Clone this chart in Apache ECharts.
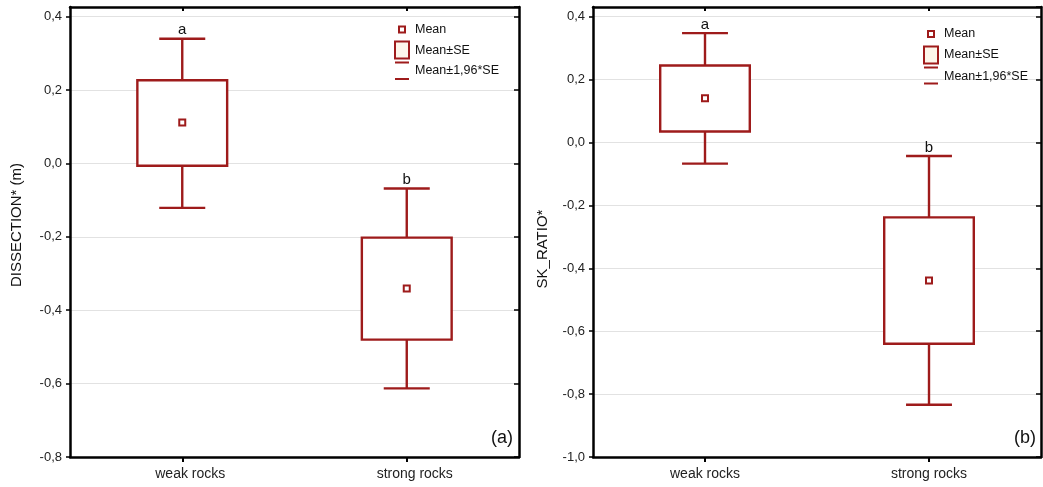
<!DOCTYPE html>
<html>
<head>
<meta charset="utf-8">
<script src="https://cdn.jsdelivr.net/npm/echarts@6/dist/echarts.min.js"></script>
<style>
html,body{margin:0;padding:0;background:#fff;}
#chart{width:1043px;height:487px;}
</style>
</head>
<body>
<div id="chart"></div>
<script>
// ---- data ----
var categories = ['weak rocks', 'strong rocks'];
var groupLetters = ['a', 'b'];

// Panel (a): DISSECTION* (m)
var dissMean   = [0.112, -0.341];
var dissSeLow  = [-0.006, -0.480];
var dissSeHigh = [0.227, -0.202];
var dissCiLow  = [-0.121, -0.613];
var dissCiHigh = [0.340, -0.068];

// Panel (b): SK_RATIO*
var skMean   = [0.141, -0.439];
var skSeLow  = [0.035, -0.640];
var skSeHigh = [0.245, -0.238];
var skCiLow  = [-0.067, -0.834];
var skCiHigh = [0.348, -0.043];

var dissTicks = {min: -0.8, max: 0.4265, interval: 0.2};
var skTicks   = {min: -1.0, max: 0.431, interval: 0.2};

// ---- style ----
var RED = '#9e1b1b';
var FONT = "'Liberation Sans', Arial, sans-serif";

function buildRows(mean, lo, hi, cl, ch) {
  return categories.map(function (c, i) {
    return [i, mean[i], lo[i], hi[i], cl[i], ch[i]];
  });
}

function renderItem(params, api) {
  var i = api.value(0);
  var pMean = api.coord([i, api.value(1)]);
  var yLo = api.coord([i, api.value(2)])[1];
  var yHi = api.coord([i, api.value(3)])[1];
  var yCl = api.coord([i, api.value(4)])[1];
  var yCh = api.coord([i, api.value(5)])[1];
  var cx = pMean[0];
  var band = api.size([1, 0])[0];
  var bw = band * 0.4;
  var cw = band * 0.205;
  var ls = {stroke: RED, lineWidth: 2.4, fill: null};
  return {
    type: 'group',
    children: [
      {type: 'line', shape: {x1: cx, y1: yHi, x2: cx, y2: yCh}, style: ls},
      {type: 'line', shape: {x1: cx, y1: yLo, x2: cx, y2: yCl}, style: ls},
      {type: 'line', shape: {x1: cx - cw / 2, y1: yCh, x2: cx + cw / 2, y2: yCh}, style: ls},
      {type: 'line', shape: {x1: cx - cw / 2, y1: yCl, x2: cx + cw / 2, y2: yCl}, style: ls},
      {type: 'rect', shape: {x: cx - bw / 2, y: yHi, width: bw, height: yLo - yHi},
        style: {stroke: RED, lineWidth: 2.4, fill: '#ffffff'}},
      {type: 'rect', shape: {x: cx - 3, y: pMean[1] - 3, width: 6, height: 6},
        style: {stroke: RED, lineWidth: 2, fill: '#ffffff'}},
      {type: 'text', style: {text: groupLetters[i], x: cx, y: yCh - 1,
        textAlign: 'center', textVerticalAlign: 'bottom', align: 'center', verticalAlign: 'bottom',
        font: '15px ' + FONT, fill: '#111'}}
    ]
  };
}

function fmt(v) {
  var r = Math.round(v * 10) / 10;
  if (Math.abs(v - r) > 1e-6) return '';
  return r.toFixed(1).replace('.', ',');
}

function axesFor(g, ticks, labelPad) {
  var frame = {show: true, onZero: false, lineStyle: {color: '#000', width: 2.5}};
  return {
    x: [
      {gridIndex: g, type: 'category', data: categories, position: 'bottom',
        axisLine: frame,
        axisTick: {show: true, alignWithLabel: true, length: 5, lineStyle: {color: '#000', width: 2}},
        axisLabel: {fontSize: 14, color: '#222', margin: 10, fontFamily: FONT, padding: labelPad},
        splitLine: {show: false}},
      {gridIndex: g, type: 'category', data: categories, position: 'top',
        axisLine: frame,
        axisTick: {show: true, alignWithLabel: true, inside: true, length: 4, lineStyle: {color: '#000', width: 2}},
        axisLabel: {show: false}, splitLine: {show: false}}
    ],
    y: [
      {gridIndex: g, type: 'value', min: ticks.min, max: ticks.max, interval: ticks.interval,
        position: 'left',
        axisLine: frame,
        axisTick: {show: true, length: 4, lineStyle: {color: '#000', width: 1.5}},
        axisLabel: {fontSize: 13, color: '#222', margin: 8, fontFamily: FONT, formatter: fmt, showMaxLabel: false},
        splitLine: {show: true, lineStyle: {color: '#e2e2e2', width: 1}}},
      {gridIndex: g, type: 'value', min: ticks.min, max: ticks.max, interval: ticks.interval,
        position: 'right',
        axisLine: frame,
        axisTick: {show: true, inside: true, length: 5, lineStyle: {color: '#000', width: 1.5}},
        axisLabel: {show: false}, splitLine: {show: false}}
    ]
  };
}

var a0 = axesFor(0, dissTicks, [0, 0, 0, 16]);
var a1 = axesFor(1, skTicks, [0, 0, 0, 0]);

function legendGraphics(x0, yMean, yBoxTop, yLine1, ySeText, yCiText, yLine2) {
  var t = function (txt, y) {
    return {type: 'text', z: 100, x: x0 + 20, y: y, style: {text: txt, font: '12.5px ' + FONT, fill: '#111',
      textAlign: 'left', textVerticalAlign: 'middle', align: 'left', verticalAlign: 'middle'}};
  };
  return [
    {type: 'rect', z: 100, shape: {x: x0 + 4, y: yMean - 3, width: 6, height: 6},
      style: {stroke: RED, lineWidth: 2, fill: '#fff'}},
    t('Mean', yMean),
    {type: 'rect', z: 100, shape: {x: x0, y: yBoxTop, width: 14, height: 17},
      style: {stroke: RED, lineWidth: 2, fill: '#fdf6ea'}},
    {type: 'line', z: 100, shape: {x1: x0, y1: yLine1, x2: x0 + 14, y2: yLine1}, style: {stroke: RED, lineWidth: 2}},
    t('Mean\u00b1SE', ySeText),
    t('Mean\u00b11,96*SE', yCiText),
    {type: 'line', z: 100, shape: {x1: x0, y1: yLine2, x2: x0 + 14, y2: yLine2}, style: {stroke: RED, lineWidth: 2}}
  ];
}

var graphics = [].concat(
  legendGraphics(395, 29.5, 41.5, 62.5, 50.5, 71, 79),
  legendGraphics(924, 34, 46.5, 67.5, 54.5, 76.5, 83.5),
  [
    {type: 'text', z: 100, x: 17, y: 225, rotation: Math.PI / 2,
      style: {text: 'DISSECTION* (m)', font: '15px ' + FONT, fill: '#111',
        textAlign: 'center', textVerticalAlign: 'middle', align: 'center', verticalAlign: 'middle'}},
    {type: 'text', z: 100, x: 543, y: 249, rotation: Math.PI / 2,
      style: {text: 'SK_RATIO*', font: '15px ' + FONT, fill: '#111',
        textAlign: 'center', textVerticalAlign: 'middle', align: 'center', verticalAlign: 'middle'}},
    {type: 'text', z: 100, x: 502, y: 438,
      style: {text: '(a)', font: '18px ' + FONT, fill: '#111',
        textAlign: 'center', textVerticalAlign: 'middle', align: 'center', verticalAlign: 'middle'}},
    {type: 'text', z: 100, x: 1025, y: 438,
      style: {text: '(b)', font: '18px ' + FONT, fill: '#111',
        textAlign: 'center', textVerticalAlign: 'middle', align: 'center', verticalAlign: 'middle'}}
  ]
);

var option = {
  backgroundColor: '#ffffff',
  animation: false,
  textStyle: {fontFamily: FONT},
  grid: [
    {left: 70, top: 7, width: 449, height: 450, show: false},
    {left: 593, top: 7, width: 448, height: 450, show: false}
  ],
  xAxis: a0.x.concat(a1.x),
  yAxis: a0.y.concat(a1.y),
  series: [
    {type: 'custom', name: 'DISSECTION* (m)', xAxisIndex: 0, yAxisIndex: 0,
      renderItem: renderItem, data: buildRows(dissMean, dissSeLow, dissSeHigh, dissCiLow, dissCiHigh), z: 5},
    {type: 'custom', name: 'SK_RATIO*', xAxisIndex: 2, yAxisIndex: 2,
      renderItem: renderItem, data: buildRows(skMean, skSeLow, skSeHigh, skCiLow, skCiHigh), z: 5}
  ],
  graphic: graphics
};

var chart = echarts.init(document.getElementById('chart'), null, {renderer: 'canvas'});
chart.setOption(option);
</script>
</body>
</html>
